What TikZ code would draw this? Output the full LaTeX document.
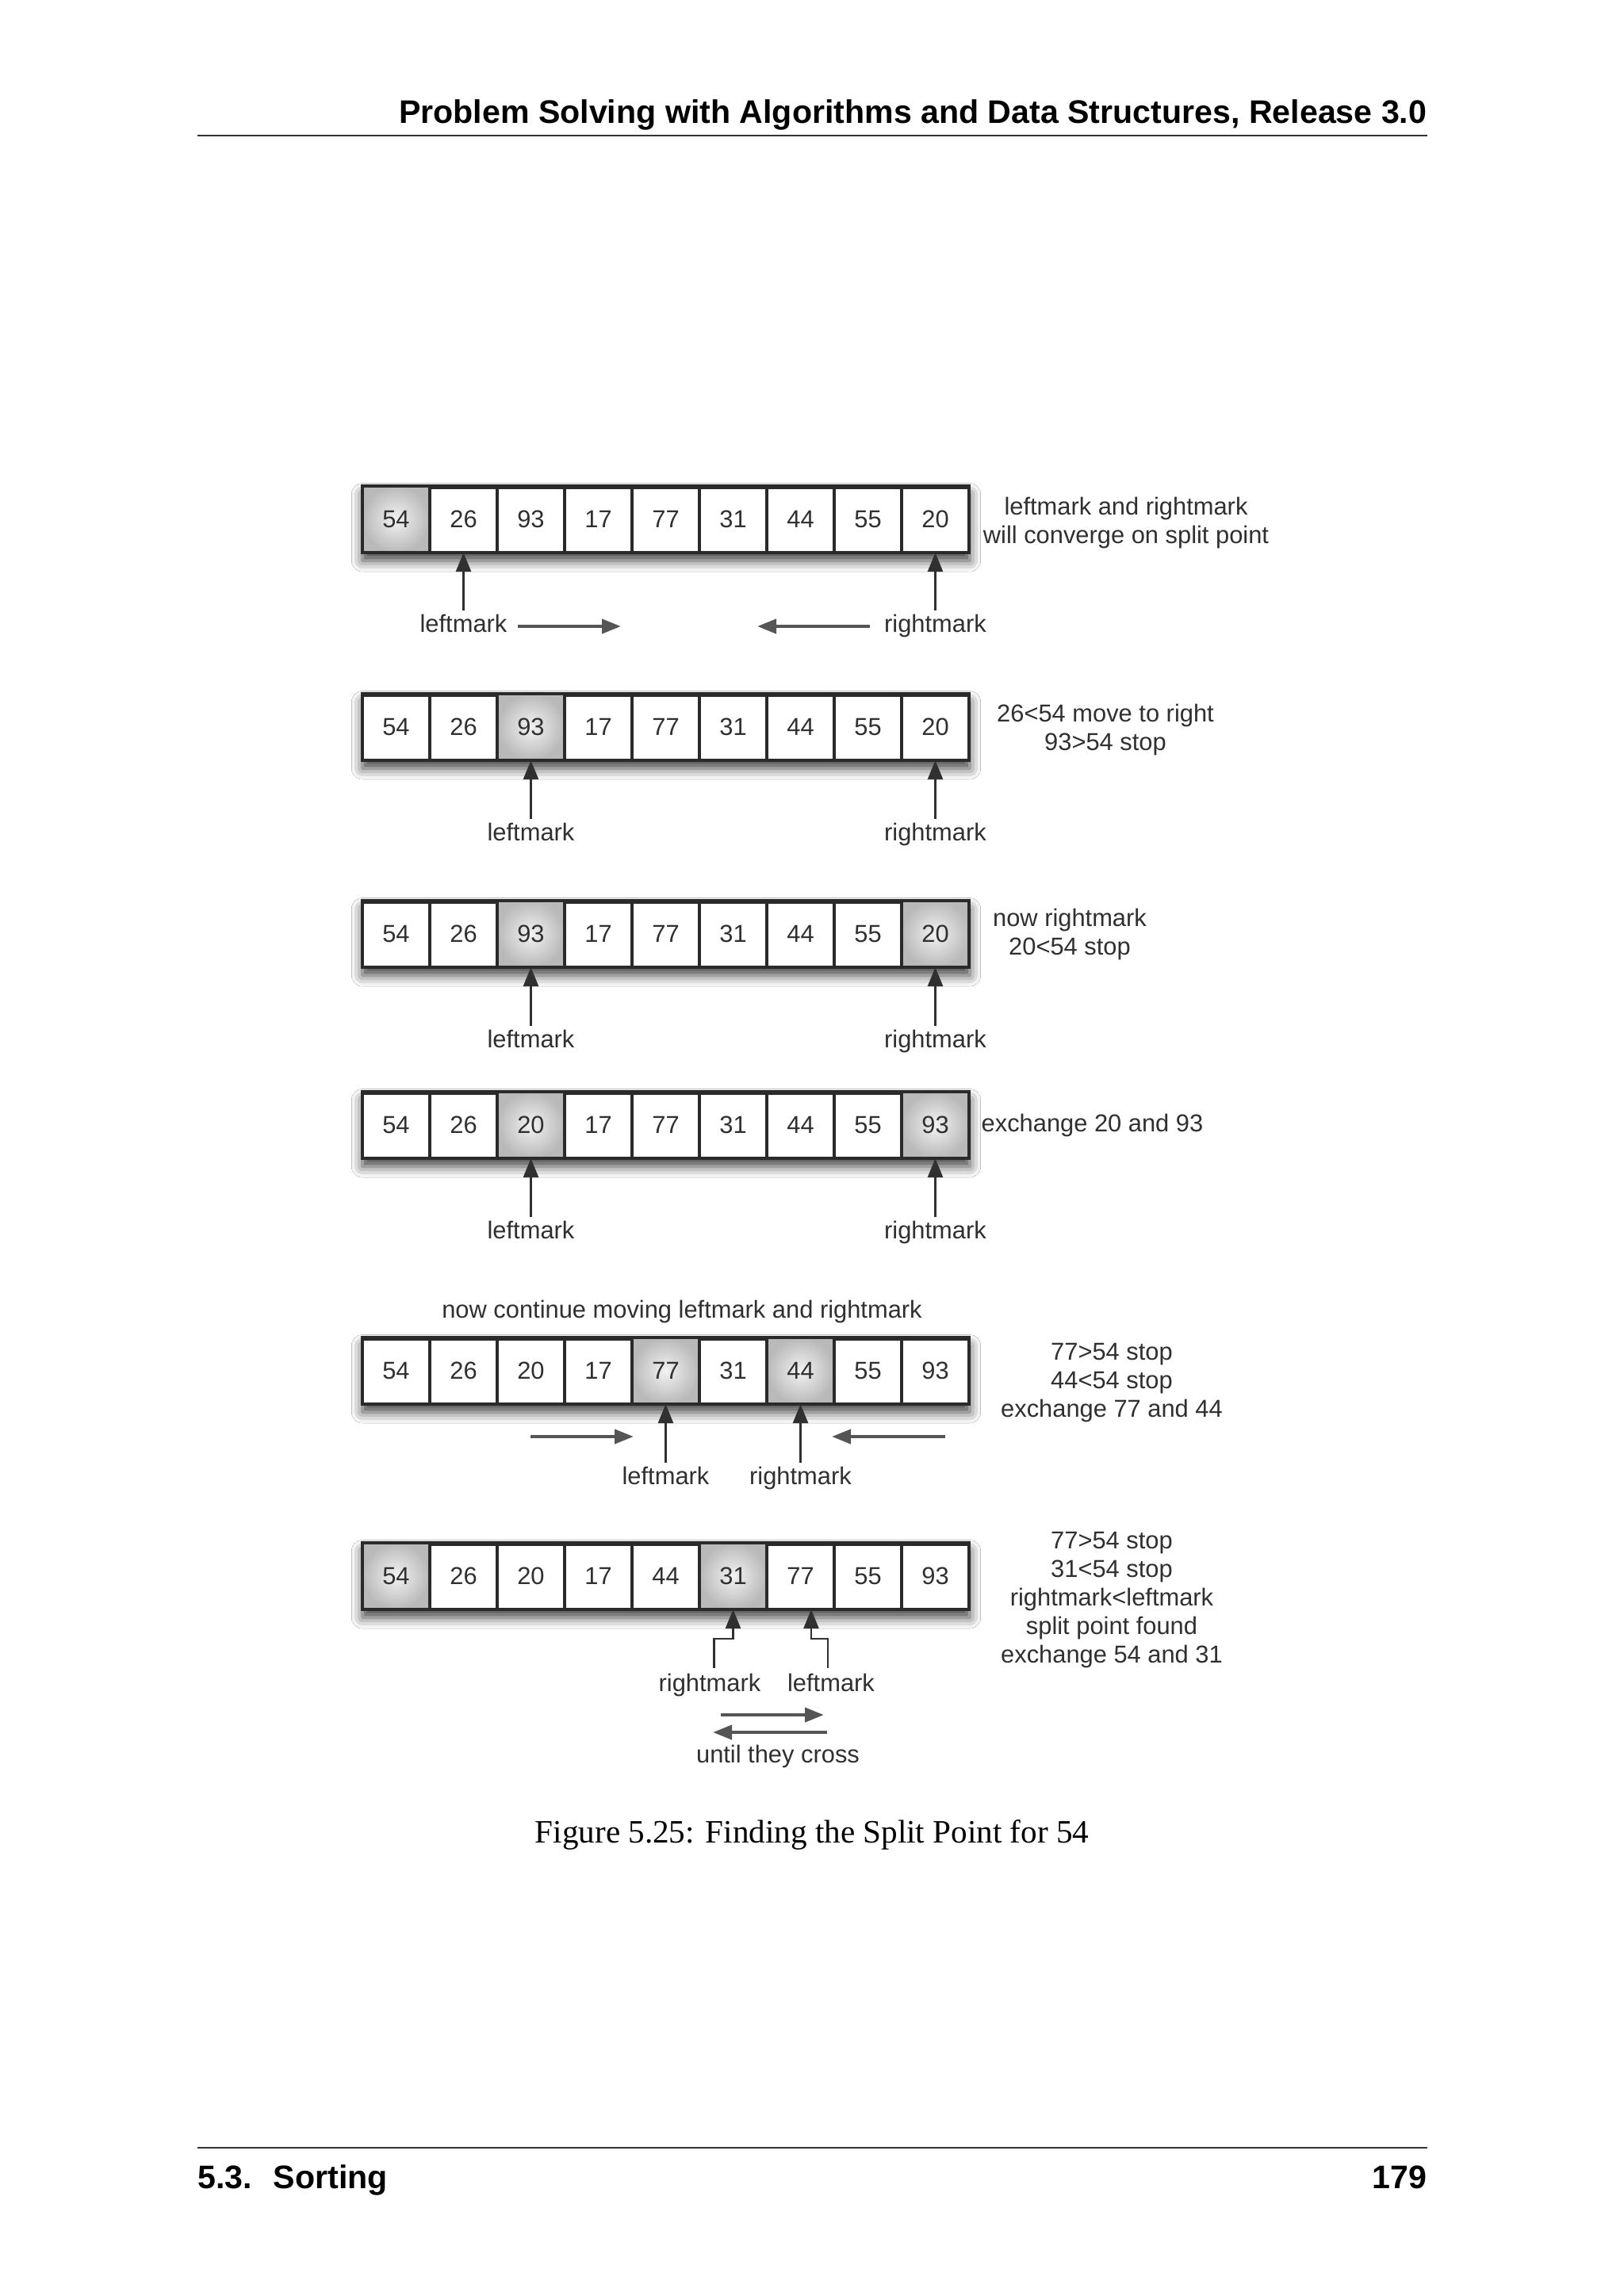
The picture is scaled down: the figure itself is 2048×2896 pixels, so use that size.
\documentclass[tikz,border=0pt]{standalone}
\usepackage{fontspec}
\setmainfont{Liberation Serif}
\setsansfont{Liberation Sans}
\usetikzlibrary{arrows.meta,shadows.blur}
\definecolor{ink}{HTML}{303030}
\definecolor{cellborder}{HTML}{2A2A2A}
\definecolor{hmovec}{HTML}{555555}
\tikzset{
  cell/.style={draw=cellborder, line width=0.95pt, minimum width=24.79pt, minimum height=24.5pt,
    inner sep=0pt, outer sep=0pt, font=\sffamily\fontsize{9}{10.45}\selectfont, text=ink},
  hotcell/.style={shading=radial, inner color=gray!10, outer color=gray!55},
  rowframe/.style={fill=white, blur shadow={shadow xshift=0pt, shadow yshift=-3pt,
    shadow blur radius=4pt, shadow opacity=75}},
  lbl/.style={font=\sffamily\fontsize{9}{10.45}\selectfont, text=ink, inner sep=1.2pt, anchor=base},
  sidenote/.style={font=\sffamily\fontsize{9}{10.45}\selectfont, text=ink, align=center,
    inner sep=0pt, anchor=base},
  vup/.style={draw=ink, line width=0.85pt, -{Triangle[length=7pt,width=5.5pt]}},
  hmove/.style={draw=hmovec, line width=1.3pt, -{Triangle[length=7pt,width=5.2pt]}},
}
\newcommand\qsrow[4]{%
  \path[rowframe] (457,#2) rectangle (1223,#2+84);
  \draw[cellborder, line width=1.6pt] (457,#2+1) -- (1223,#2+1);
  \foreach \s in {#4}{\path[hotcell] ({457+85*\s},#2) rectangle ({542+85*\s},#2+84);}
  \foreach \v [count=\i from 0] in {#3}{\node[cell] (#1-\i) at ({499.5+85*\i},#2+42) {\v};}
}
\begin{document}
\begin{tikzpicture}[x=0.29167pt, y=-0.29167pt]
\fill[white] (0,0) rectangle (2048,2896);
\useasboundingbox (0,0) rectangle (2048,2896);

% header and footer
\node[anchor=base east, inner sep=0pt, font=\sffamily\bfseries\fontsize{12}{14}\selectfont] (hdr) at (1800,155)
  {Problem Solving with Algorithms and Data Structures, Release 3.0};
\draw[line width=0.6pt, black!80] (249,171) -- (1800,171);
\draw[line width=0.6pt, black!80] (249,2709) -- (1800,2709);
\node[anchor=base west, inner sep=0pt, font=\sffamily\bfseries\fontsize{12}{14}\selectfont] (ftl) at (249,2760) {5.3.~ Sorting};
\node[anchor=base east, inner sep=0pt, font=\sffamily\bfseries\fontsize{12}{14}\selectfont] (ftr) at (1800,2760) {179};

% row 1
\qsrow{r1}{613}{54,26,93,17,77,31,44,55,20}{0}
\node[lbl] (lm1) at (584.5,797) {leftmark};
\node[lbl] (rm1) at (1179.5,797) {rightmark};
\draw[vup] (lm1.north) -- (r1-1.south);
\draw[vup] (rm1.north) -- (r1-8.south);
\coordinate (h1a) at (653,790); \coordinate (h1b) at (783,790);
\coordinate (h1c) at (1097,790); \coordinate (h1d) at (955,790);
\draw[hmove] (h1a) -- (h1b);
\draw[hmove] (h1c) -- (h1d);
\node[sidenote] (n1) at (1420,685) {leftmark and rightmark\\will converge on split point};

% row 2
\qsrow{r2}{875}{54,26,93,17,77,31,44,55,20}{2}
\node[lbl] (lm2) at (669.5,1060) {leftmark};
\node[lbl] (rm2) at (1179.5,1060) {rightmark};
\draw[vup] (lm2.north) -- (r2-2.south);
\draw[vup] (rm2.north) -- (r2-8.south);
\node[sidenote] (n2) at (1394,946) {26<54 move to right\\93>54 stop};

% row 3
\qsrow{r3}{1136}{54,26,93,17,77,31,44,55,20}{2,8}
\node[lbl] (lm3) at (669.5,1321) {leftmark};
\node[lbl] (rm3) at (1179.5,1321) {rightmark};
\draw[vup] (lm3.north) -- (r3-2.south);
\draw[vup] (rm3.north) -- (r3-8.south);
\node[sidenote] (n3) at (1349,1204) {now rightmark\\20<54 stop};

% row 4
\qsrow{r4}{1377}{54,26,20,17,77,31,44,55,93}{2,8}
\node[lbl] (lm4) at (669.5,1562) {leftmark};
\node[lbl] (rm4) at (1179.5,1562) {rightmark};
\draw[vup] (lm4.north) -- (r4-2.south);
\draw[vup] (rm4.north) -- (r4-8.south);
\node[sidenote, anchor=base west] (n4) at (1237,1427) {exchange 20 and 93};

% row 5
\node[sidenote] (t5) at (860,1662) {now continue moving leftmark and rightmark};
\qsrow{r5}{1687}{54,26,20,17,77,31,44,55,93}{4,6}
\node[lbl] (lm5) at (839.5,1872) {leftmark};
\node[lbl] (rm5) at (1009.5,1872) {rightmark};
\draw[vup] (lm5.north) -- (r5-4.south);
\draw[vup] (rm5.north) -- (r5-6.south);
\coordinate (h5a) at (669,1812); \coordinate (h5b) at (799,1812);
\coordinate (h5c) at (1192,1812); \coordinate (h5d) at (1049,1812);
\draw[hmove] (h5a) -- (h5b);
\draw[hmove] (h5c) -- (h5d);
\node[sidenote] (n5) at (1402,1787) {77>54 stop\\44<54 stop\\exchange 77 and 44};

% row 6
\qsrow{r6}{1946}{54,26,20,17,44,31,77,55,93}{0,5}
\node[lbl] (rm6) at (895,2133) {rightmark};
\node[lbl] (lm6) at (1048,2133) {leftmark};
\coordinate (rm6t) at (900.7,2104);
\coordinate (lm6t) at (1044,2104);
\draw[vup] (rm6t) |- (r6-5.south |- 0,2067) -- (r6-5.south);
\draw[vup] (lm6t) |- (1023,2067) -- (r6-6.south -| 1023,0);
\coordinate (h6a) at (909,2163); \coordinate (h6b) at (1039,2163);
\coordinate (h6c) at (1043,2185); \coordinate (h6d) at (899,2185);
\draw[hmove] (h6a) -- (h6b);
\draw[hmove] (h6c) -- (h6d);
\node[lbl] (cross) at (981,2223) {until they cross};
\node[sidenote] (n6) at (1402,2097) {77>54 stop\\31<54 stop\\rightmark<leftmark\\split point found\\exchange 54 and 31};

% caption
\node[anchor=base, inner sep=0pt, font=\rmfamily\fontsize{12}{14}\selectfont] (cap) at (1024,2324)
  {Figure 5.25: Finding the Split Point for 54};
\end{tikzpicture}
\end{document}
